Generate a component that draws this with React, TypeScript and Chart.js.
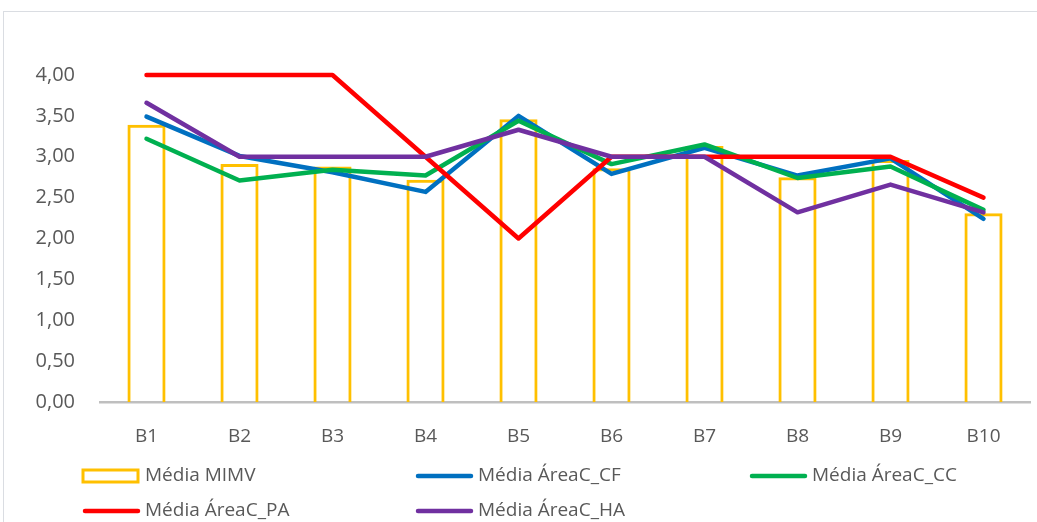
import React, { useEffect, useRef } from "react";
import { Chart, registerables } from "chart.js";

Chart.register(...registerables);

const categories = ["B1", "B2", "B3", "B4", "B5", "B6", "B7", "B8", "B9", "B10"];
const mediaMIMV = [3.39, 2.91, 2.88, 2.72, 3.46, 2.86, 3.13, 2.75, 2.96, 2.31];
const mediaCF = [3.49, 3.01, 2.81, 2.57, 3.5, 2.79, 3.11, 2.77, 2.98, 2.24];
const mediaCC = [3.22, 2.71, 2.84, 2.77, 3.44, 2.91, 3.15, 2.74, 2.88, 2.35];
const mediaPA = [4.0, 4.0, 4.0, 3.0, 2.0, 3.0, 3.0, 3.0, 3.0, 2.5];
const mediaHA = [3.66, 3.0, 3.0, 3.0, 3.33, 3.0, 3.0, 2.32, 2.66, 2.32];
const yTicks = [0, 0.5, 1, 1.5, 2, 2.5, 3, 3.5, 4];

const FONT = "'Open Sans', 'Noto Sans', sans-serif";
const TEXT = "#595959";

const legendPlugin = {
  id: "customLegend",
  afterDraw(chart: any) {
    const ctx = chart.ctx;
    const cols = [83, 416, 750];
    const rows = [476, 511];
    const ds = chart.data.datasets;
    ctx.save();
    ctx.font = `19px ${FONT}`;
    ctx.fillStyle = TEXT;
    ctx.textBaseline = "middle";
    ds.forEach((d: any, i: number) => {
      const x = cols[i % 3];
      const y = rows[Math.floor(i / 3)];
      if (d.type === "bar") {
        ctx.strokeStyle = d.borderColor;
        ctx.lineWidth = 3;
        ctx.fillStyle = "#ffffff";
        ctx.fillRect(x, y - 6, 55, 12);
        ctx.strokeRect(x, y - 6, 55, 12);
      } else {
        ctx.strokeStyle = d.borderColor;
        ctx.lineWidth = 4.5;
        ctx.lineCap = "round";
        ctx.beginPath();
        ctx.moveTo(x + 2, y);
        ctx.lineTo(x + 55, y);
        ctx.stroke();
      }
      ctx.fillStyle = TEXT;
      ctx.fillText(d.label, x + 62, y);
    });
    ctx.restore();
  },
};

export default function App() {
  const ref = useRef<HTMLCanvasElement | null>(null);
  useEffect(() => {
    if (!ref.current) return;
    const lineDs = (label: string, data: number[], color: string, order: number) => ({
      type: "line" as const,
      label,
      data,
      borderColor: color,
      backgroundColor: color,
      borderWidth: 4.5,
      pointRadius: 0,
      tension: 0,
      clip: 8,
      borderJoinStyle: "round" as const,
      borderCapStyle: "round" as const,
      order,
    });
    const chart = new Chart(ref.current, {
      data: {
        labels: categories,
        datasets: [
          {
            type: "bar",
            label: "Média MIMV",
            data: mediaMIMV,
            backgroundColor: "rgba(255,255,255,0)",
            borderColor: "#FFC000",
            borderWidth: 3,
            barPercentage: 0.41,
            categoryPercentage: 1,
            order: 10,
          },
          lineDs("Média ÁreaC_CF", mediaCF, "#0070C0", 4),
          lineDs("Média ÁreaC_CC", mediaCC, "#00B050", 3),
          lineDs("Média ÁreaC_PA", mediaPA, "#FF0000", 2),
          lineDs("Média ÁreaC_HA", mediaHA, "#7030A0", 1),
        ] as any,
      },
      options: {
        animation: false,
        responsive: false,
        maintainAspectRatio: false,
        layout: { padding: { top: 75, right: 7, left: 0, bottom: 0 } },
        plugins: { legend: { display: false }, tooltip: { enabled: false } },
        scales: {
          x: {
            grid: { display: false, drawTicks: false },
            border: { display: true, color: "#BFBFBF", width: 2.5 },
            ticks: { color: TEXT, font: { family: FONT, size: 19 }, padding: 23 },
            afterFit: (s: any) => {
              s.height = 120;
            },
          },
          y: {
            min: 0,
            max: 4,
            grid: { display: false, drawTicks: false },
            border: { display: false },
            afterBuildTicks: (s: any) => {
              s.ticks = yTicks.map((v) => ({ value: v }));
            },
            ticks: {
              color: TEXT,
              font: { family: FONT, size: 20 },
              padding: 25,
              callback: (v: any) => Number(v).toFixed(2).replace(".", ","),
            },
            afterFit: (s: any) => {
              s.width = 100;
            },
          },
        },
      },
      plugins: [legendPlugin],
    });
    return () => chart.destroy();
  }, []);
  return (
    <div style={{ position: "absolute", left: 0, top: 0, width: 1037, height: 522, background: "#fff" }}>
      <div
        style={{
          position: "absolute",
          left: 3,
          top: 11,
          right: 0,
          bottom: 0,
          borderTop: "1.5px solid #DADDE2",
          borderLeft: "1.5px solid #DADDE2",
        }}
      />
      <canvas ref={ref} width={1037} height={522} style={{ position: "absolute", left: 0, top: 0 }} />
    </div>
  );
}
